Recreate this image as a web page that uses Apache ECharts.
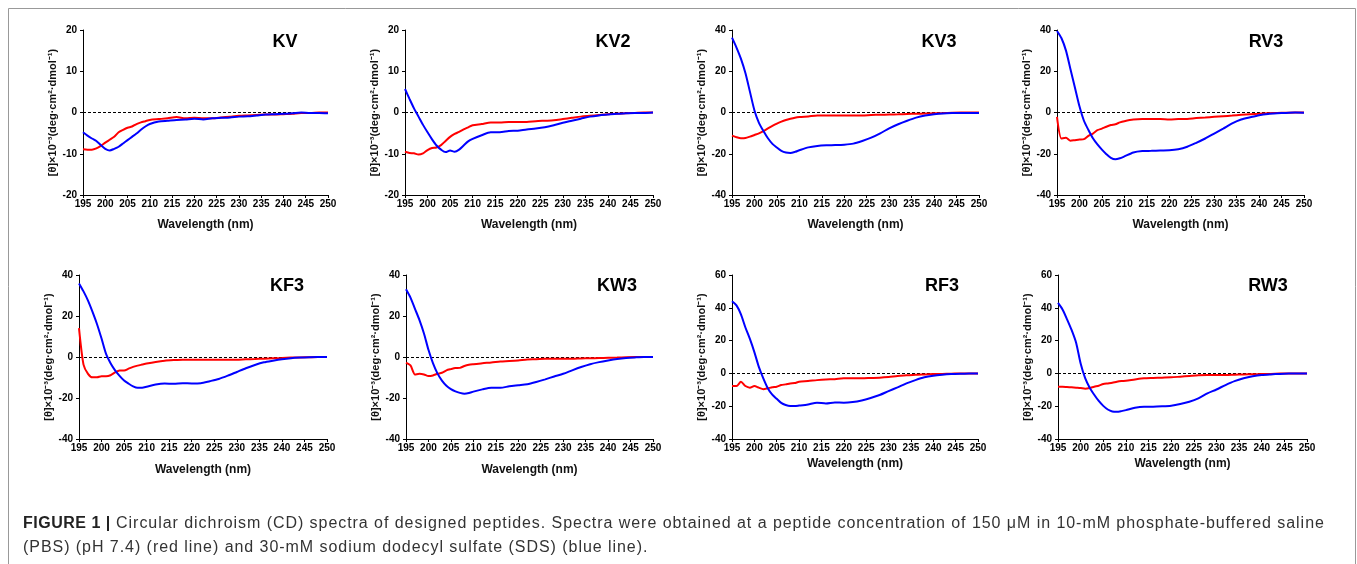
<!DOCTYPE html>
<html>
<head>
<meta charset="utf-8">
<script src="https://cdn.jsdelivr.net/npm/echarts@6/dist/echarts.min.js"></script>
<style>
html,body{margin:0;padding:0;background:#fff;}
#wrap{position:relative;width:1357px;height:564px;overflow:hidden;}
#chart{position:absolute;left:0;top:0;width:1357px;height:564px;}
#caption{position:absolute;left:23px;top:511px;width:1330px;font-family:"Liberation Sans",Arial,Helvetica,sans-serif;
  font-size:16px;line-height:24px;letter-spacing:0.95px;color:#333;white-space:nowrap;}
#caption b{color:#222;letter-spacing:0.5px;}
</style>
</head>
<body>
<div id="wrap">
<div id="chart"></div>
<div id="caption"></div>
</div>
<script>
// Wavelengths (nm)
const wavelengths = [195,196,197,198,199,200,201,202,203,204,205,206,207,208,209,210,
  212,214,216,218,220,222,224,226,228,230,232,234,236,238,240,242,244,246,248,250];

// Panel names
const panelNames = ['KV','KV2','KV3','RV3','KF3','KW3','RF3','RW3'];

// Y axis ranges / tick steps
const yMins  = [-20,-20,-40,-40,-40,-40,-40,-40];
const yMaxs  = [20,20,40,40,40,40,60,60];
const ySteps = [10,10,20,20,20,20,20,20];

// X ticks
const xMin = 195, xMax = 250, xStep = 5;

// PBS (red) and SDS (blue) spectra, [θ]×10^-3
const kvPBS  = [-8.9,-9.0,-9.0,-8.7,-8.1,-7.3,-6.6,-5.9,-4.8,-4.2,-3.7,-3.4,-2.8,-2.4,-2.1,-1.8,
  -1.6,-1.4,-1.1,-1.4,-1.3,-1.4,-1.4,-1.2,-1.0,-0.8,-0.7,-0.6,-0.5,-0.5,-0.4,-0.3,-0.1,-0.1,0,0];
const kvSDS  = [-4.8,-5.6,-6.3,-6.9,-7.9,-8.8,-9.2,-8.8,-8.3,-7.5,-6.7,-5.9,-5.1,-4.2,-3.4,-2.8,
  -2.2,-2.0,-1.8,-1.7,-1.5,-1.7,-1.4,-1.3,-1.2,-1.0,-0.9,-0.7,-0.5,-0.4,-0.3,-0.2,0,-0.1,-0.1,-0.2];

const kv2PBS = [-9.5,-9.8,-9.9,-10.2,-9.9,-9.1,-8.6,-8.5,-7.9,-6.9,-5.9,-5.2,-4.7,-4.1,-3.6,-3.1,
  -2.8,-2.4,-2.4,-2.3,-2.3,-2.3,-2.1,-2.0,-1.9,-1.6,-1.3,-1.0,-0.8,-0.6,-0.4,-0.3,-0.2,-0.1,0,0];
const kv2SDS = [5.7,3.3,1.0,-1.0,-3.0,-4.8,-6.5,-8.0,-9.0,-9.6,-9.2,-9.5,-9.0,-8.0,-7.0,-6.4,
  -5.5,-4.8,-4.8,-4.5,-4.4,-4.1,-3.9,-3.6,-3.1,-2.5,-2.0,-1.5,-1.0,-0.7,-0.5,-0.3,-0.2,-0.1,-0.1,0];

const kv3PBS = [-11.2,-12.0,-12.5,-12.4,-11.7,-10.9,-10.1,-9.0,-7.7,-6.5,-5.4,-4.4,-3.6,-3.0,-2.5,-2.2,
  -1.9,-1.5,-1.5,-1.5,-1.5,-1.4,-1.4,-1.2,-1.1,-1.0,-0.9,-0.7,-0.6,-0.5,-0.4,-0.3,-0.1,0,0,0];
const kv3SDS = [36.3,31.5,26,19,10,1,-5,-9,-12.5,-15.2,-17,-18.6,-19.4,-19.6,-19.1,-18.3,
  -16.9,-16.2,-15.9,-15.8,-15.6,-15.1,-13.8,-12.2,-10.1,-7.7,-5.7,-4.0,-2.5,-1.5,-0.9,-0.5,-0.3,-0.2,-0.2,-0.2];

const rv3PBS = [-2.1,-12.6,-12.3,-13.7,-13.4,-13.1,-12.9,-11.3,-10.2,-8.6,-7.8,-6.9,-6.1,-5.7,-4.8,-4.2,
  -3.4,-3.2,-3.2,-3.2,-3.4,-3.2,-3.1,-2.7,-2.4,-2.1,-1.8,-1.5,-1.1,-0.8,-0.6,-0.4,-0.2,-0.1,0,0];
const rv3SDS = [39.5,36,30,21,12,3,-4,-8.5,-12.5,-15.5,-18,-20.2,-22,-22.7,-22.2,-21.3,
  -19.4,-18.7,-18.6,-18.4,-18.3,-17.8,-16.6,-14.7,-12.6,-10.2,-7.8,-5.3,-3.4,-2.3,-1.3,-0.7,-0.4,-0.2,0,-0.1];

const kf3PBS = [14.1,-3.7,-8.2,-9.9,-9.9,-9.4,-9.4,-8.9,-7.5,-6.6,-6.6,-5.7,-4.8,-4.2,-3.7,-3.2,
  -2.4,-1.8,-1.5,-1.3,-1.3,-1.3,-1.3,-1.3,-1.3,-1.3,-1.1,-1.0,-0.8,-0.6,-0.5,-0.3,-0.2,-0.1,0,0];
const kf3SDS = [35.9,32,27.5,22,16,9,1.5,-3,-6.5,-9.2,-11.5,-13,-14.3,-15,-15,-14.5,
  -13.4,-12.9,-13.1,-12.8,-12.9,-12.8,-11.8,-10.7,-9.1,-7.3,-5.5,-3.9,-2.6,-1.8,-1.1,-0.6,-0.3,-0.1,0,0];

const kw3PBS = [-2.8,-4.1,-8.5,-8.2,-8.5,-9.3,-9.0,-8.2,-7.7,-6.5,-5.9,-5.4,-5.3,-4.4,-3.8,-3.5,
  -3.0,-2.7,-2.2,-2.0,-1.7,-1.2,-1.1,-0.9,-0.9,-0.9,-0.9,-0.7,-0.6,-0.5,-0.4,-0.3,-0.1,0,0,0];
const kw3SDS = [33.1,29,23.5,18,11.5,3.5,-3,-8,-11.5,-14,-15.7,-16.8,-17.5,-17.9,-17.6,-16.9,
  -15.8,-15.0,-15.0,-14.3,-13.8,-13.3,-12.2,-10.9,-9.5,-8.2,-6.5,-4.9,-3.5,-2.5,-1.7,-1.0,-0.5,-0.2,0,0];

const rf3PBS = [-7.7,-7.7,-5.1,-7.7,-8.7,-7.7,-8.7,-9.6,-9.1,-8.5,-8.1,-7.1,-6.7,-6.1,-5.9,-5.1,
  -4.7,-4.1,-3.7,-3.5,-3.0,-3.0,-3.0,-2.8,-2.6,-2.2,-1.6,-1.2,-0.8,-0.6,-0.4,-0.3,-0.2,0,0,0];
const rf3SDS = [44,41.5,36,28,21,13,4,-3,-9,-13,-15.5,-18,-19.3,-19.9,-19.9,-19.6,
  -18.9,-17.9,-18.3,-17.7,-17.9,-17.5,-16.5,-15.0,-13.2,-10.8,-8.5,-6.1,-4.1,-2.4,-1.4,-0.8,-0.4,-0.2,-0.1,0];

const rw3PBS = [-8.1,-8.1,-8.3,-8.5,-8.7,-8.9,-9.3,-8.9,-8.1,-7.5,-6.5,-6.1,-5.7,-5.1,-4.7,-4.5,
  -3.7,-3.0,-2.8,-2.6,-2.4,-2.0,-1.6,-1.2,-1.0,-1.0,-1.0,-0.8,-0.6,-0.5,-0.4,-0.3,-0.1,0,0,0];
const rw3SDS = [43,39,33,26.5,18.7,6,-2.9,-8.7,-13,-16.8,-19.8,-22,-23.2,-23.4,-23,-22.4,
  -20.9,-20.3,-20.3,-20.1,-19.7,-18.7,-17.3,-15.2,-12.2,-9.8,-7.1,-4.7,-3.0,-1.8,-1.0,-0.6,-0.3,-0.1,0,0];

const pbsSeries = [kvPBS, kv2PBS, kv3PBS, rv3PBS, kf3PBS, kw3PBS, rf3PBS, rw3PBS];
const sdsSeries = [kvSDS, kv2SDS, kv3SDS, rv3SDS, kf3SDS, kw3SDS, rf3SDS, rw3SDS];

const yAxisTitle = '[θ]×10⁻³(deg·cm²·dmol⁻¹)';
const xAxisTitle = 'Wavelength (nm)';
const captionBold = 'FIGURE 1 |';
const captionLine1 = ' Circular dichroism (CD) spectra of designed peptides. Spectra were obtained at a peptide concentration of 150 μM in 10-mM phosphate-buffered saline';
const captionLine2 = '(PBS) (pH 7.4) (red line) and 30-mM sodium dodecyl sulfate (SDS) (blue line).';

// caption as real text
(function(){
  const cap = document.getElementById('caption');
  const b = document.createElement('b'); b.textContent = captionBold;
  cap.appendChild(b);
  cap.appendChild(document.createTextNode(captionLine1));
  cap.appendChild(document.createElement('br'));
  cap.appendChild(document.createTextNode(captionLine2));
})();

// ---------- layout ----------
const gridBoxes = [
  {left:83,  top:30,  width:245, height:165},
  {left:405, top:30,  width:248, height:165},
  {left:732, top:30,  width:247, height:165},
  {left:1057,top:30,  width:247, height:165},
  {left:79,  top:275, width:248, height:164},
  {left:406, top:275, width:247, height:164},
  {left:732, top:275, width:246, height:164},
  {left:1058,top:275, width:249, height:164}
];
const xNameGaps = [24,24,24,24,25,25,19,19];
const titlePos = [[285,42],[613,42],[939,42],[1266,42],[287,286],[617,286],[942,286],[1268,286]];

const FONT = '"Liberation Sans", Arial, Helvetica, sans-serif';

const grids = [], xAxes = [], yAxes = [], series = [], graphics = [];
gridBoxes.forEach((g, i) => {
  grids.push(Object.assign({containLabel:false}, g));
  xAxes.push({
    type:'value', gridIndex:i, min:xMin, max:xMax, interval:xStep,
    name:xAxisTitle, nameLocation:'middle', nameGap:xNameGaps[i],
    nameTextStyle:{fontFamily:FONT, fontWeight:'bold', fontSize:12, color:'#111'},
    axisLine:{show:true, onZero:false, lineStyle:{color:'#000', width:1}},
    axisTick:{show:true, inside:false, length:3, lineStyle:{color:'#000'}},
    axisLabel:{fontFamily:FONT, fontWeight:'bold', fontSize:10, color:'#000', margin:4},
    splitLine:{show:false}
  });
  yAxes.push({
    type:'value', gridIndex:i, min:yMins[i], max:yMaxs[i], interval:ySteps[i],
    name:yAxisTitle, nameLocation:'middle', nameRotate:90, nameGap:25,
    nameTextStyle:{fontFamily:FONT, fontWeight:'bold', fontSize:11, color:'#111'},
    axisLine:{show:true, onZero:false, lineStyle:{color:'#000', width:1}},
    axisTick:{show:true, inside:false, length:3, lineStyle:{color:'#000'}},
    axisLabel:{fontFamily:FONT, fontWeight:'bold', fontSize:10, color:'#000', margin:6},
    splitLine:{show:false}
  });
  series.push({
    type:'line', xAxisIndex:i, yAxisIndex:i, showSymbol:false, smooth:0.25,
    lineStyle:{color:'#ff0000', width:2}, z:3,
    data: wavelengths.map((w, k) => [w, pbsSeries[i][k]]),
    markLine:{
      silent:true, symbol:['none','none'], label:{show:false},
      lineStyle:{color:'#000', type:[3,2], width:1},
      data:[{yAxis:0}], z:1
    }
  });
  series.push({
    type:'line', xAxisIndex:i, yAxisIndex:i, showSymbol:false, smooth:0.25,
    lineStyle:{color:'#0000ff', width:2}, z:4,
    data: wavelengths.map((w, k) => [w, sdsSeries[i][k]])
  });
  graphics.push({
    type:'text', x:titlePos[i][0], y:titlePos[i][1],
    style:{text:panelNames[i], fontFamily:FONT, fontWeight:'bold', fontSize:18, fill:'#000',
      textAlign:'center', textVerticalAlign:'middle'}
  });
});

graphics.push({
  type:'rect', shape:{x:8.5, y:8.5, width:1347, height:620},
  style:{fill:'none', stroke:'#999', lineWidth:1}, silent:true
});

const chart = echarts.init(document.getElementById('chart'), null, {renderer:'canvas'});
chart.setOption({
  animation:false,
  backgroundColor:'#fff',
  grid:grids, xAxis:xAxes, yAxis:yAxes, series:series,
  graphic:graphics
});
</script>
</body>
</html>
